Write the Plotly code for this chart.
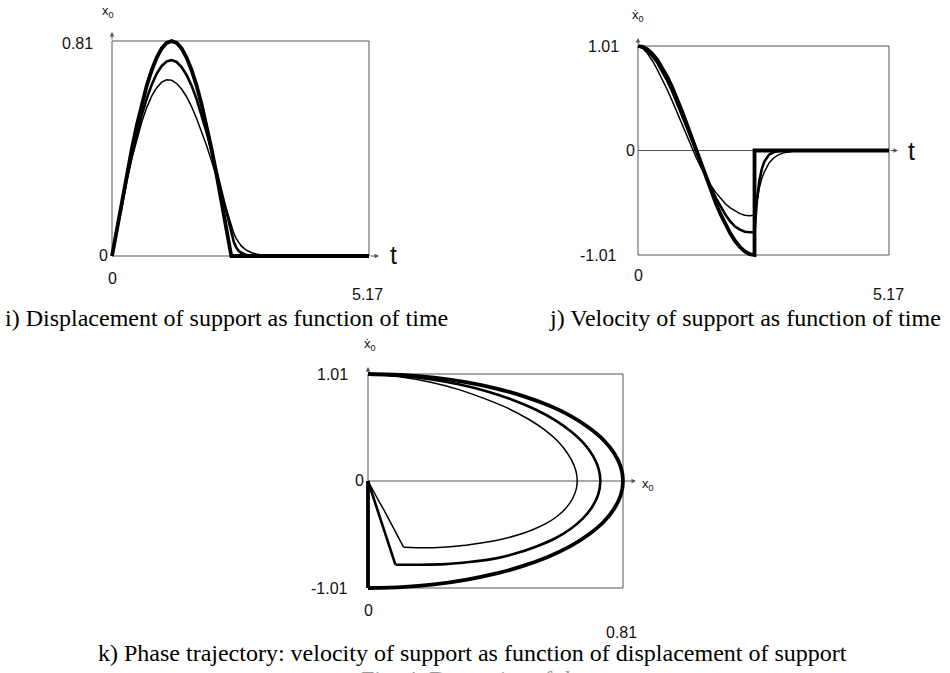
import plotly.graph_objects as go

W, H = 950, 673

# ---------------- data ----------------
t = [0.0, 0.1, 0.2, 0.3, 0.4, 0.5, 0.6, 0.7, 0.8, 0.9, 1.0, 1.1, 1.2, 1.3, 1.4,
     1.5, 1.6, 1.7, 1.8, 1.9, 2.0, 2.1, 2.2, 2.3, 2.4,
     2.4, 2.45, 2.5, 2.55, 2.6, 2.7, 2.8, 2.9, 3.0, 3.2, 3.4, 3.7, 4.0, 4.5, 5.17]

x_thick = [0.0, 0.106, 0.210, 0.310, 0.405, 0.493, 0.573, 0.643, 0.701, 0.748, 0.782,
           0.803, 0.810, 0.803, 0.782, 0.748, 0.701, 0.643, 0.573, 0.493, 0.405, 0.310,
           0.210, 0.106, 0.0,
           0.0, 0.0, 0.0, 0.0, 0.0, 0.0, 0.0, 0.0, 0.0, 0.0, 0.0, 0.0, 0.0, 0.0, 0.0]
v_thick = [1.01, 1.001, 0.976, 0.933, 0.875, 0.801, 0.714, 0.615, 0.505, 0.387, 0.261,
           0.132, 0.0, -0.132, -0.261, -0.387, -0.505, -0.615, -0.714, -0.801, -0.875,
           -0.933, -0.976, -1.001, -1.01,
           0.0, 0.0, 0.0, 0.0, 0.0, 0.0, 0.0, 0.0, 0.0, 0.0, 0.0, 0.0, 0.0, 0.0, 0.0]

x_med = [0.0, 0.100, 0.198, 0.291, 0.379, 0.460, 0.532, 0.594, 0.646, 0.687, 0.716,
         0.733, 0.738, 0.731, 0.712, 0.682, 0.642, 0.592, 0.533, 0.468, 0.397, 0.322,
         0.245, 0.166, 0.087,
         0.087, 0.053, 0.032, 0.019, 0.012, 0.004, 0.0015, 0.0005, 0.0002, 0.0, 0.0,
         0.0, 0.0, 0.0, 0.0]
v_med = [1.01, 0.995, 0.96, 0.91, 0.845, 0.765, 0.675, 0.575, 0.465, 0.35, 0.23,
         0.11, -0.01, -0.13, -0.245, -0.355, -0.455, -0.545, -0.62, -0.685, -0.735,
         -0.765, -0.785, -0.79, -0.79,
         -0.79, -0.48, -0.29, -0.18, -0.11, -0.04, -0.015, -0.005, -0.002, 0.0, 0.0,
         0.0, 0.0, 0.0, 0.0]

x_thin = [0.0, 0.100, 0.196, 0.286, 0.368, 0.442, 0.506, 0.560, 0.603, 0.634, 0.655,
          0.664, 0.662, 0.650, 0.629, 0.600, 0.563, 0.519, 0.470, 0.417, 0.360, 0.300,
          0.238, 0.176, 0.113,
          0.113, 0.086, 0.065, 0.050, 0.038, 0.022, 0.013, 0.0073, 0.0042, 0.0014,
          0.0005, 0.0001, 0.0, 0.0, 0.0]
v_thin = [1.01, 0.985, 0.935, 0.865, 0.78, 0.69, 0.59, 0.485, 0.375, 0.26, 0.145,
          0.035, -0.07, -0.165, -0.255, -0.335, -0.405, -0.465, -0.515, -0.555, -0.585,
          -0.61, -0.625, -0.63, -0.625,
          -0.625, -0.47, -0.36, -0.27, -0.21, -0.12, -0.07, -0.04, -0.023, -0.008,
          -0.003, -0.0005, 0.0, 0.0, 0.0]

KNEE = 24  # index of the switching instant (t = 2.4) in the arrays above

T_MAX = 5.17
X_MAX = 0.81
V_MAX = 1.01

captions = [
    "i) Displacement of support as function of time",
    "j) Velocity of support as function of time",
    "k) Phase trajectory: velocity of support as function of displacement of support",
]
footer = "Fig. 4. Dynamics of the support"

# ---------------- layout helpers ----------------
PAD = 0.05


def frame(px_x0, px_x1, px_ybot, px_ytop, xr, yr):
    dx = xr[1] - xr[0]
    dy = yr[1] - yr[0]
    pw = px_x1 - px_x0
    ph = px_ybot - px_ytop
    xrange = [xr[0] - PAD * dx, xr[1] + PAD * dx]
    yrange = [yr[0] - PAD * dy, yr[1] + PAD * dy]
    xdom = [(px_x0 - PAD * pw) / W, (px_x1 + PAD * pw) / W]
    ydom = [1 - (px_ybot + PAD * ph) / H, 1 - (px_ytop - PAD * ph) / H]
    return xrange, yrange, xdom, ydom, dx / pw, dy / ph


fig = go.Figure()

panels = {
    "i": dict(px=(112, 369, 256, 41), xr=(0, T_MAX), yr=(0, X_MAX), ax="", ),
    "j": dict(px=(638, 889, 255, 46), xr=(0, T_MAX), yr=(-V_MAX, V_MAX), ax="2"),
    "k": dict(px=(368, 623, 588, 374), xr=(0, X_MAX), yr=(-V_MAX, V_MAX), ax="3"),
}

layout_axes = {}
scale = {}
for key, p in panels.items():
    xrange, yrange, xdom, ydom, sx, sy = frame(*p["px"], p["xr"], p["yr"])
    scale[key] = (sx, sy)
    axc = dict(visible=False, showgrid=False, zeroline=False, fixedrange=True)
    layout_axes["xaxis" + p["ax"]] = dict(axc, range=xrange, domain=xdom,
                                         anchor="y" + p["ax"])
    layout_axes["yaxis" + p["ax"]] = dict(axc, range=yrange, domain=ydom,
                                         anchor="x" + p["ax"])

widths = [1.5, 2.6, 3.8]
series_x = [x_thin, x_med, x_thick]
series_v = [v_thin, v_med, v_thick]

for w, xs in zip(widths, series_x):
    fig.add_trace(go.Scatter(x=t, y=xs, mode="lines", xaxis="x", yaxis="y",
                             line=dict(color="black", width=w), hoverinfo="skip"))
for w, vs in zip(widths, series_v):
    fig.add_trace(go.Scatter(x=t, y=vs, mode="lines", xaxis="x2", yaxis="y2",
                             line=dict(color="black", width=w), hoverinfo="skip"))
for w, xs, vs in zip(widths, series_x, series_v):
    # smooth arc up to the switching instant, straight run-in to the origin after it
    fig.add_trace(go.Scatter(x=xs[:KNEE + 1], y=vs[:KNEE + 1], mode="lines",
                             xaxis="x3", yaxis="y3",
                             line=dict(color="black", width=w, shape="spline",
                                       smoothing=0.6),
                             hoverinfo="skip"))
    fig.add_trace(go.Scatter(x=xs[KNEE:], y=vs[KNEE:], mode="lines",
                             xaxis="x3", yaxis="y3",
                             line=dict(color="black", width=w), hoverinfo="skip"))

AXC = "#555555"
shapes = []
# boxes
shapes.append(dict(type="rect", xref="x", yref="y", x0=0, x1=T_MAX, y0=0, y1=X_MAX,
                   line=dict(color=AXC, width=1), layer="below"))
shapes.append(dict(type="rect", xref="x2", yref="y2", x0=0, x1=T_MAX, y0=-V_MAX, y1=V_MAX,
                   line=dict(color=AXC, width=1), layer="below"))
shapes.append(dict(type="line", xref="x2", yref="y2", x0=0, x1=T_MAX, y0=0, y1=0,
                   line=dict(color=AXC, width=1), layer="below"))
shapes.append(dict(type="rect", xref="x3", yref="y3", x0=0, x1=X_MAX, y0=-V_MAX, y1=V_MAX,
                   line=dict(color=AXC, width=1), layer="below"))
shapes.append(dict(type="line", xref="x3", yref="y3", x0=0, x1=X_MAX, y0=0, y1=0,
                   line=dict(color=AXC, width=1), layer="below"))

ann = []


def arrow(xref, yref, x0, y0, x1, y1):
    ann.append(dict(xref=xref, yref=yref, axref=xref, ayref=yref, x=x1, y=y1,
                    ax=x0, ay=y0, showarrow=True, arrowhead=2, arrowsize=0.9,
                    arrowwidth=1, arrowcolor=AXC, text=""))


sxi, syi = scale["i"]
sxj, syj = scale["j"]
sxk, syk = scale["k"]
# axis arrows
arrow("x", "y", T_MAX, 0, T_MAX + 10 * sxi, 0)
arrow("x", "y", 0, X_MAX, 0, X_MAX + 9 * syi)
arrow("x2", "y2", T_MAX, 0, T_MAX + 9 * sxj, 0)
arrow("x2", "y2", 0, V_MAX, 0, V_MAX + 8 * syj)
arrow("x3", "y3", X_MAX, 0, X_MAX + 13 * sxk, 0)
arrow("x3", "y3", 0, V_MAX, 0, V_MAX + 7 * syk)

SANS = "Liberation Sans, Arial, sans-serif"
SERIF = "Liberation Serif, Times New Roman, serif"


def label(xref, yref, x, y, text, dx=0, dy=0, size=16, fam=SANS, color="#111"):
    ann.append(dict(xref=xref, yref=yref, x=x, y=y, text=text, showarrow=False,
                    xanchor="center", yanchor="middle", xshift=dx, yshift=dy,
                    font=dict(family=fam, size=size, color=color)))


# panel i labels
label("x", "y", 0, X_MAX, "0.81", -34.5, -3)
label("x", "y", 0, 0, "0", -9, 0)
label("x", "y", 0, 0, "0", 0, -22)
label("x", "y", T_MAX, 0, "5.17", -2, -38)
label("x", "y", T_MAX, 0, "t", 24, 1, size=25)
label("x", "y", 0, X_MAX, "x<sub>0</sub>", -4, 29, size=13)
# panel j labels
label("x2", "y2", 0, V_MAX, "1.01", -35, 0)
label("x2", "y2", 0, 0, "0", -8, 0)
label("x2", "y2", 0, -V_MAX, "-1.01", -40, 0)
label("x2", "y2", 0, -V_MAX, "0", 0, -20)
label("x2", "y2", T_MAX, -V_MAX, "5.17", -1, -39)
label("x2", "y2", T_MAX, 0, "t", 22, 0, size=25)
label("x2", "y2", 0, V_MAX, "\u1e8b<sub>0</sub>", 0, 31, size=13)
# panel k labels
label("x3", "y3", 0, V_MAX, "1.01", -36, -1)
label("x3", "y3", 0, 0, "0", -9, 0)
label("x3", "y3", 0, -V_MAX, "-1.01", -39, 0)
label("x3", "y3", 0, -V_MAX, "0", 0, -22)
label("x3", "y3", X_MAX, -V_MAX, "0.81", -2, -44)
label("x3", "y3", X_MAX, 0, "x<sub>0</sub>", 25, -4, size=13)
label("x3", "y3", 0, V_MAX, "\u1e8b<sub>0</sub>", 2, 29, size=13)

# captions
label("paper", "paper", 226 / W, 1 - 318 / H, captions[0], size=24, fam=SERIF, color="#000")
label("paper", "paper", 745 / W, 1 - 318 / H, captions[1], size=24, fam=SERIF, color="#000")
label("paper", "paper", 472 / W, 1 - 653 / H, captions[2], size=24, fam=SERIF, color="#000")
label("paper", "paper", 513 / W, 1 - 679 / H, footer, size=24, fam=SERIF, color="#999")

fig.update_layout(
    width=W, height=H,
    margin=dict(l=0, r=0, t=0, b=0),
    paper_bgcolor="white", plot_bgcolor="rgba(0,0,0,0)",
    showlegend=False,
    shapes=shapes,
    annotations=ann,
    **layout_axes,
)

fig.write_html(
    "out.html",
    config={"displayModeBar": False},
    post_script="document.body.style.margin='0';document.body.style.padding='0';"
                "document.body.style.overflow='hidden';",
)
